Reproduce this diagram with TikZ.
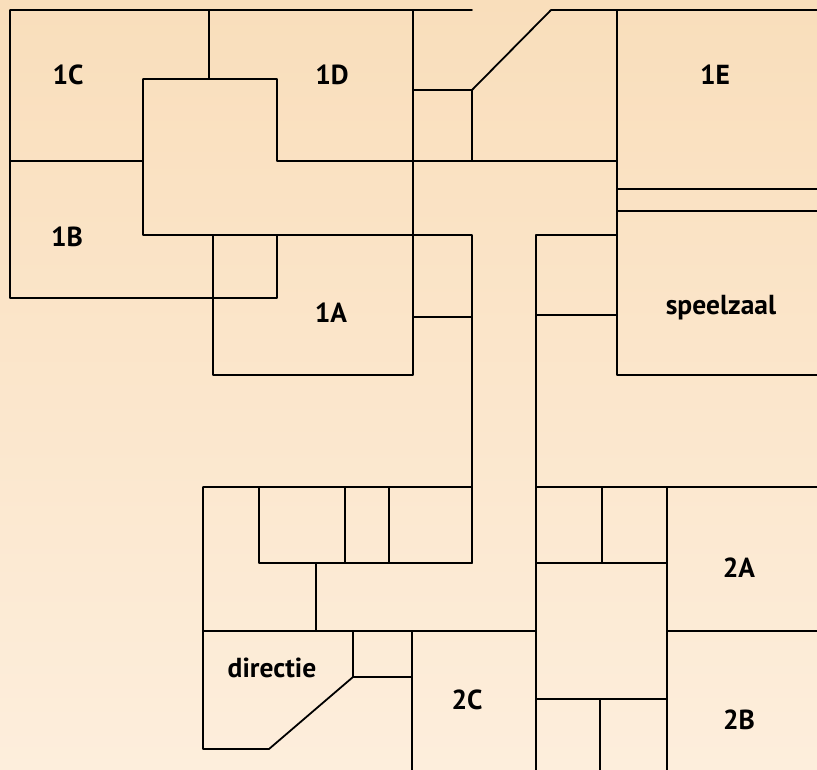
\documentclass[tikz,border=0pt]{standalone}
\usepackage{fontspec}
\setmainfont{PT Sans}
\definecolor{planTop}{RGB}{249,222,187}
\definecolor{planBot}{RGB}{253,238,220}
\begin{document}
\begin{tikzpicture}[x=1pt,y=-1pt,line cap=round,line join=round,
    wall/.style={line width=1.8pt},
    room/.style={anchor=base,font=\bfseries\fontsize{27.5}{32}\selectfont}]
  \shade[top color=planTop,bottom color=planBot] (0,0) rectangle (817,770);
  \useasboundingbox (0,0) rectangle (817,770);

  % upper wing
  \draw[wall] (10,298)--(10,10)--(472,10) (551,10)--(817,10)
    (209,10)--(209,79) (10,161)--(143,161)
    (143,235)--(143,79)--(277,79)--(277,161)--(617,161)
    (143,235)--(472,235)--(472,563)
    (10,298)--(277,298)--(277,235)
    (213,235)--(213,375)--(413,375)--(413,10)
    (413,90)--(472,90)--(472,161) (472,90)--(551,10)
    (413,317)--(472,317);
  \draw[wall] (617,10)--(617,375)--(817,375)
    (617,189)--(817,189) (617,211)--(817,211)
    (617,235)--(536,235)--(536,770) (536,315)--(617,315);

  % lower wing
  \draw[wall] (472,487)--(203,487)--(203,749)--(269,749)--(353,677)--(412,677)
    (259,487)--(259,563)--(472,563)
    (345,487)--(345,563) (389,487)--(389,563)
    (316,563)--(316,631) (203,631)--(536,631)
    (353,631)--(353,677) (412,631)--(412,770);
  \draw[wall] (536,487)--(817,487)
    (602,487)--(602,563) (536,563)--(667,563)
    (667,487)--(667,770) (667,631)--(817,631)
    (536,699)--(667,699) (600,699)--(600,770);

  \node[room] (r1C) at (68,85) {1C};
  \node[room] (r1D) at (332,85) {1D};
  \node[room] (r1E) at (715,85) {1E};
  \node[room] (r1B) at (67,247) {1B};
  \node[room] (r1A) at (331,323) {1A};
  \node[room] (gym) at (721,314) {speelzaal};
  \node[room] (dir) at (272,677) {directie};
  \node[room] (r2C) at (467,709) {2C};
  \node[room] (r2A) at (739,577) {2A};
  \node[room] (r2B) at (739,729) {2B};
\end{tikzpicture}
\end{document}
